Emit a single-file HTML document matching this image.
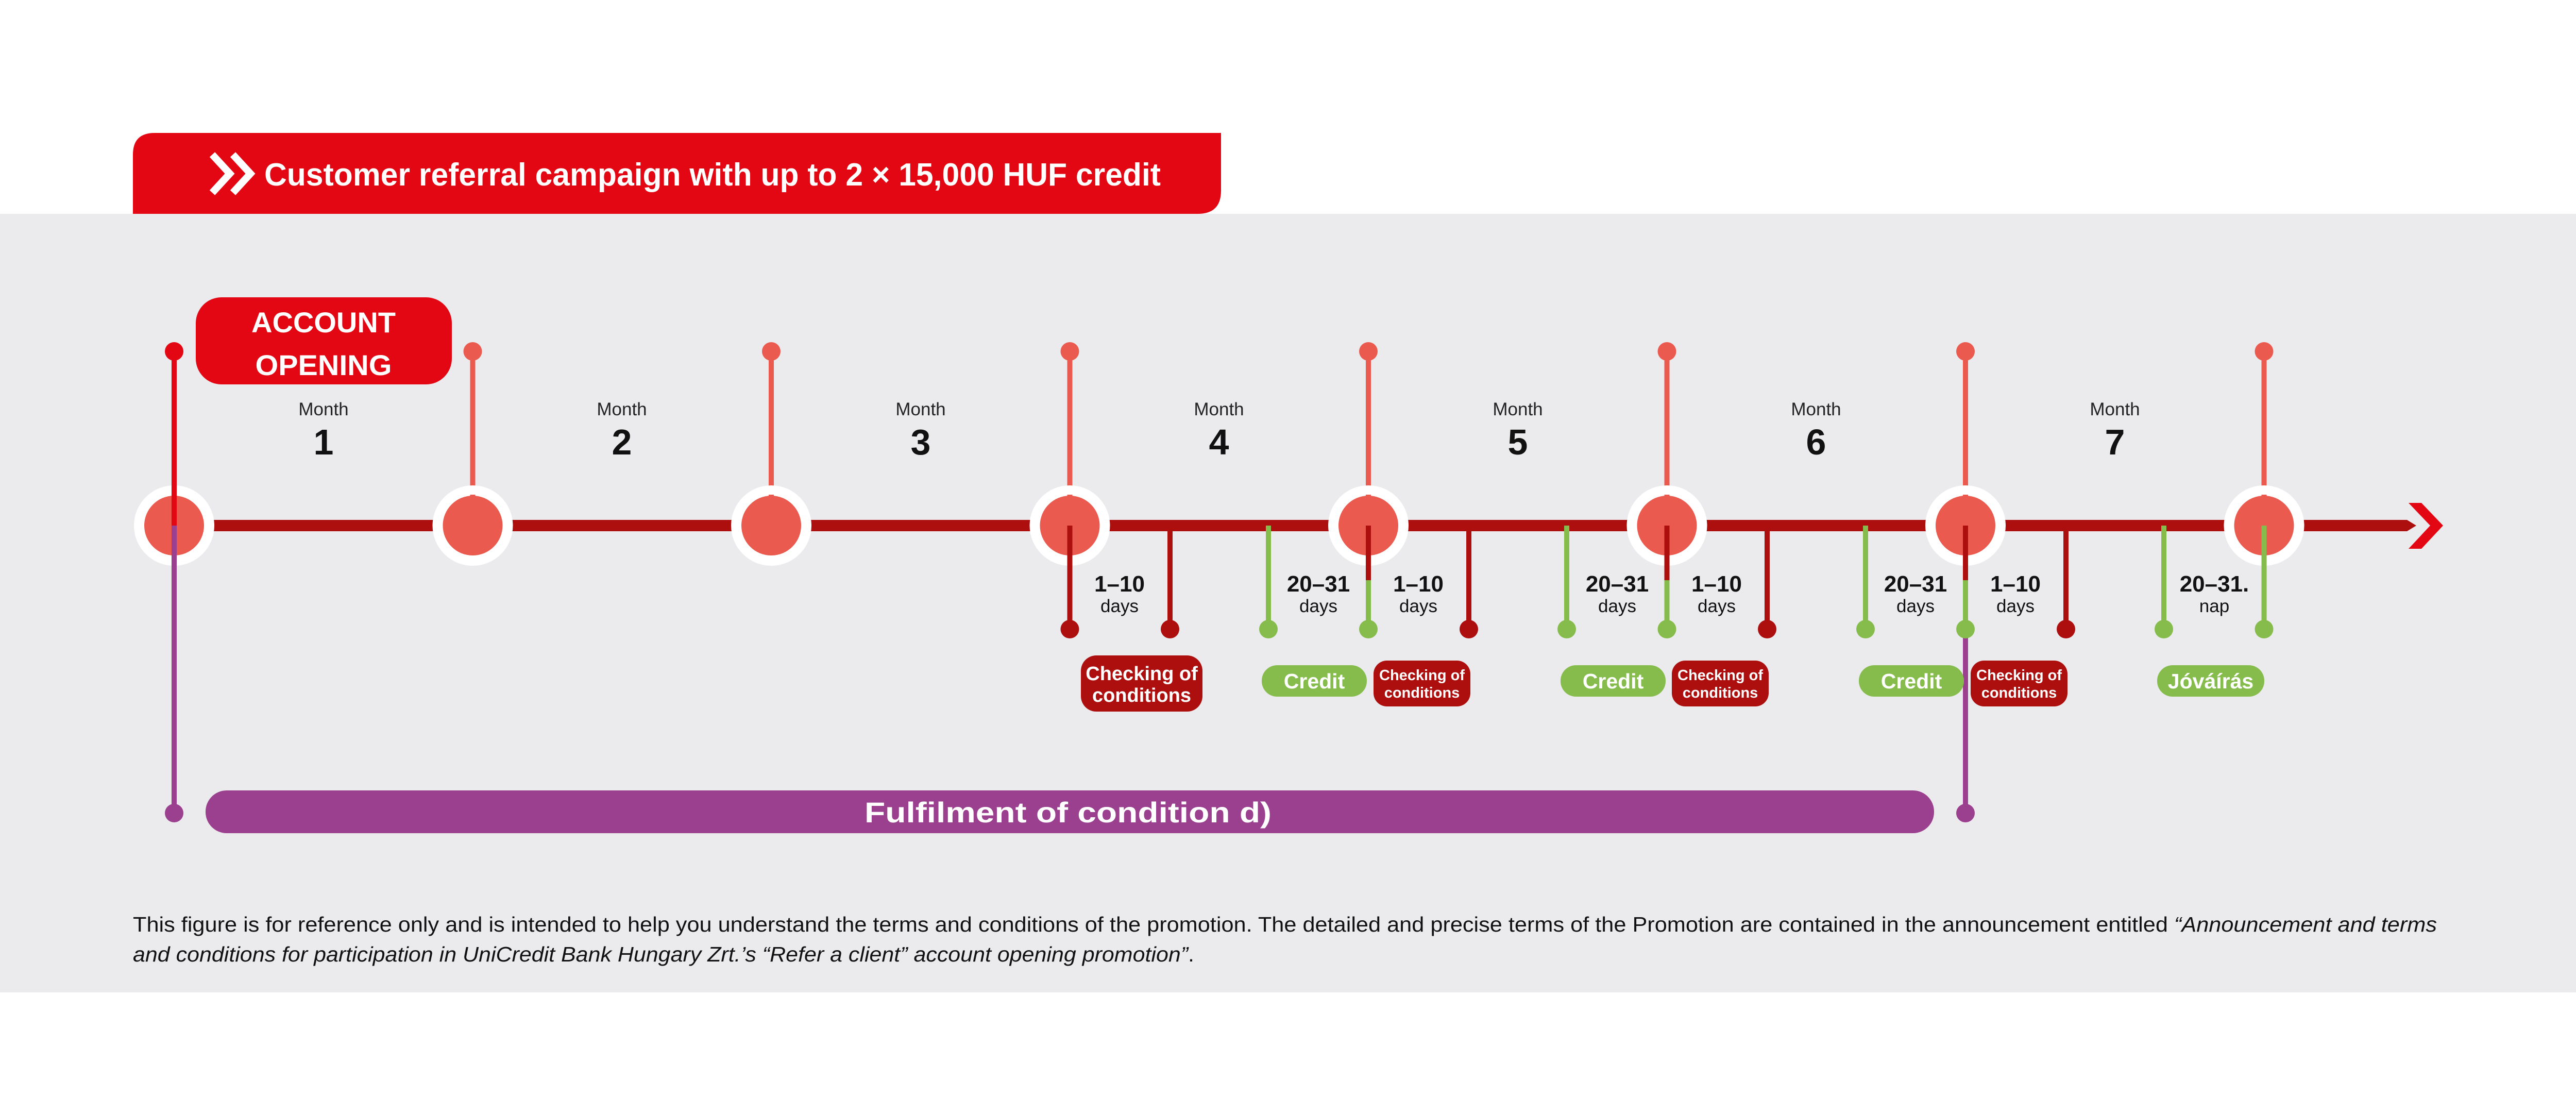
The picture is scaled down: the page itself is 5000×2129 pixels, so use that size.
<!DOCTYPE html>
<html><head><meta charset="utf-8"><style>html,body{margin:0;padding:0;background:#fff}svg{display:block}</style></head><body>
<svg width="5000" height="2129" viewBox="0 0 5000 2129" xmlns="http://www.w3.org/2000/svg" font-family="'Liberation Sans', sans-serif">
<rect x="0" y="0" width="5000" height="2129" fill="#fff"/>
<rect x="0" y="415" width="5000" height="1511" fill="#ebebed"/>
<!-- header tab -->
<path d="M300 258 H2370 V370 Q2370 415 2325 415 H258 V300 Q258 258 300 258 Z" fill="#e30613"/>
<polyline points="412,300 446,337 412,374" fill="none" stroke="#fff" stroke-width="14"/>
<polyline points="452,300 486,337 452,374" fill="none" stroke="#fff" stroke-width="14"/>
<text x="513" y="360" font-size="62" font-weight="bold" fill="#fff" textLength="1740" lengthAdjust="spacingAndGlyphs">Customer referral campaign with up to 2 × 15,000 HUF credit</text>
<!-- account opening -->
<rect x="380" y="577" width="497" height="169" rx="50" fill="#e30613"/>
<text x="628" y="645" font-size="56" font-weight="bold" fill="#fff" text-anchor="middle" textLength="280" lengthAdjust="spacingAndGlyphs">ACCOUNT</text>
<text x="628" y="728" font-size="56" font-weight="bold" fill="#fff" text-anchor="middle" textLength="265" lengthAdjust="spacingAndGlyphs">OPENING</text>
<!-- main line -->
<rect x="338" y="1009" width="4334" height="22" fill="#ad0e0e"/>
<polygon points="4672,1009 4690,1020 4672,1031" fill="#ad0e0e"/>
<polygon points="4675,976 4700,976 4742,1020 4700,1065 4675,1065 4717,1020" fill="#e30613"/>
<!-- purple -->
<line x1="338" y1="1020" x2="338" y2="1578" stroke="#9b3f8f" stroke-width="10"/>
<circle cx="338" cy="1578" r="18" fill="#9b3f8f"/>
<line x1="3815" y1="1180" x2="3815" y2="1578" stroke="#9b3f8f" stroke-width="10"/>
<circle cx="3815" cy="1578" r="18" fill="#9b3f8f"/>
<rect x="399" y="1534" width="3355" height="83" rx="41" fill="#9b3f8f"/>
<text x="2073" y="1596" font-size="56" font-weight="bold" fill="#fff" text-anchor="middle" textLength="790" lengthAdjust="spacingAndGlyphs">Fulfilment of condition d)</text>
<!-- top stems + circles -->
<g>
<line x1="338" y1="682" x2="338" y2="1020" stroke="#e30613" stroke-width="10"/><circle cx="338" cy="682" r="18" fill="#e30613"/>
</g>
<g stroke="#eb5a4e" stroke-width="10">
<line x1="917.5" y1="682" x2="917.5" y2="1020"/><line x1="1497" y1="682" x2="1497" y2="1020"/><line x1="2076.5" y1="682" x2="2076.5" y2="1020"/><line x1="2656" y1="682" x2="2656" y2="1020"/><line x1="3235.5" y1="682" x2="3235.5" y2="1020"/><line x1="3815" y1="682" x2="3815" y2="1020"/><line x1="4394.5" y1="682" x2="4394.5" y2="1020"/>
</g>
<g fill="#eb5a4e">
<circle cx="917.5" cy="682" r="18"/><circle cx="1497" cy="682" r="18"/><circle cx="2076.5" cy="682" r="18"/><circle cx="2656" cy="682" r="18"/><circle cx="3235.5" cy="682" r="18"/><circle cx="3815" cy="682" r="18"/><circle cx="4394.5" cy="682" r="18"/>
</g>
<g>
<circle cx="338" cy="1020" r="78" fill="#fff"/><circle cx="917.5" cy="1020" r="78" fill="#fff"/><circle cx="1497" cy="1020" r="78" fill="#fff"/><circle cx="2076.5" cy="1020" r="78" fill="#fff"/><circle cx="2656" cy="1020" r="78" fill="#fff"/><circle cx="3235.5" cy="1020" r="78" fill="#fff"/><circle cx="3815" cy="1020" r="78" fill="#fff"/><circle cx="4394.5" cy="1020" r="78" fill="#fff"/>
</g>
<g fill="#eb5a4e">
<circle cx="338" cy="1020" r="58"/><circle cx="917.5" cy="1020" r="58"/><circle cx="1497" cy="1020" r="58"/><circle cx="2076.5" cy="1020" r="58"/><circle cx="2656" cy="1020" r="58"/><circle cx="3235.5" cy="1020" r="58"/><circle cx="3815" cy="1020" r="58"/><circle cx="4394.5" cy="1020" r="58"/>
</g>
<line x1="338" y1="682" x2="338" y2="1020" stroke="#e30613" stroke-width="10"/>
<line x1="338" y1="1020" x2="338" y2="1100" stroke="#9b3f8f" stroke-width="10"/>
<g stroke="#eb5a4e" stroke-width="10">
<line x1="917.5" y1="960" x2="917.5" y2="1020"/><line x1="1497" y1="960" x2="1497" y2="1020"/><line x1="2076.5" y1="960" x2="2076.5" y2="1020"/><line x1="2656" y1="960" x2="2656" y2="1020"/><line x1="3235.5" y1="960" x2="3235.5" y2="1020"/><line x1="3815" y1="960" x2="3815" y2="1020"/><line x1="4394.5" y1="960" x2="4394.5" y2="1020"/>
</g>
<!-- month labels -->
<g font-size="35" fill="#222" text-anchor="middle">
<text x="628" y="806">Month</text><text x="1207" y="806">Month</text><text x="1787" y="806">Month</text><text x="2366" y="806">Month</text><text x="2946" y="806">Month</text><text x="3525" y="806">Month</text><text x="4105" y="806">Month</text>
</g>
<g font-size="70" font-weight="bold" fill="#111" text-anchor="middle">
<text x="628" y="882">1</text><text x="1207" y="882">2</text><text x="1787" y="882">3</text><text x="2366" y="882">4</text><text x="2946" y="882">5</text><text x="3525" y="882">6</text><text x="4105" y="882">7</text>
</g>
<!-- lower stems -->
<g stroke-width="10">
<line x1="2076.5" y1="1020" x2="2076.5" y2="1221" stroke="#ad0e0e"/>
<line x1="2271" y1="1020" x2="2271" y2="1221" stroke="#ad0e0e"/>
<line x1="2462" y1="1020" x2="2462" y2="1221" stroke="#86bc4c"/>
<line x1="2656" y1="1126" x2="2656" y2="1221" stroke="#86bc4c"/><line x1="2656" y1="1020" x2="2656" y2="1126" stroke="#ad0e0e"/>
<line x1="2851" y1="1020" x2="2851" y2="1221" stroke="#ad0e0e"/>
<line x1="3041" y1="1020" x2="3041" y2="1221" stroke="#86bc4c"/>
<line x1="3235.5" y1="1126" x2="3235.5" y2="1221" stroke="#86bc4c"/><line x1="3235.5" y1="1020" x2="3235.5" y2="1126" stroke="#ad0e0e"/>
<line x1="3430" y1="1020" x2="3430" y2="1221" stroke="#ad0e0e"/>
<line x1="3621" y1="1020" x2="3621" y2="1221" stroke="#86bc4c"/>
<line x1="3815" y1="1126" x2="3815" y2="1221" stroke="#86bc4c"/><line x1="3815" y1="1020" x2="3815" y2="1126" stroke="#ad0e0e"/>
<line x1="4010" y1="1020" x2="4010" y2="1221" stroke="#ad0e0e"/>
<line x1="4200" y1="1020" x2="4200" y2="1221" stroke="#86bc4c"/>
<line x1="4394.5" y1="1020" x2="4394.5" y2="1221" stroke="#86bc4c"/>
</g>
<g fill="#ad0e0e"><circle cx="2076.5" cy="1221" r="18"/><circle cx="2271" cy="1221" r="18"/><circle cx="2851" cy="1221" r="18"/><circle cx="3430" cy="1221" r="18"/><circle cx="4010" cy="1221" r="18"/></g>
<g fill="#86bc4c"><circle cx="2462" cy="1221" r="18"/><circle cx="2656" cy="1221" r="18"/><circle cx="3041" cy="1221" r="18"/><circle cx="3235.5" cy="1221" r="18"/><circle cx="3621" cy="1221" r="18"/><circle cx="3815" cy="1221" r="18"/><circle cx="4200" cy="1221" r="18"/><circle cx="4394.5" cy="1221" r="18"/></g>
<!-- day labels -->
<g text-anchor="middle" fill="#111">
<g font-size="44" font-weight="bold">
<text x="2173" y="1148">1–10</text><text x="2753" y="1148">1–10</text><text x="3332" y="1148">1–10</text><text x="3912" y="1148">1–10</text>
<text x="2559" y="1148">20–31</text><text x="3139" y="1148">20–31</text><text x="3718" y="1148">20–31</text><text x="4298" y="1148">20–31.</text>
</g>
<g font-size="35">
<text x="2173" y="1188">days</text><text x="2753" y="1188">days</text><text x="3332" y="1188">days</text><text x="3912" y="1188">days</text>
<text x="2559" y="1188">days</text><text x="3139" y="1188">days</text><text x="3718" y="1188">days</text><text x="4298" y="1188">nap</text>
</g>
</g>
<!-- boxes -->
<rect x="2098" y="1272" width="236" height="109" rx="30" fill="#ad0e0e"/>
<text x="2216" y="1320" font-size="38" font-weight="bold" fill="#fff" text-anchor="middle">Checking of</text>
<text x="2216" y="1362" font-size="38" font-weight="bold" fill="#fff" text-anchor="middle">conditions</text>
<g fill="#ad0e0e"><rect x="2666" y="1282" width="188" height="89" rx="26"/><rect x="3245" y="1282" width="188" height="89" rx="26"/><rect x="3825" y="1282" width="188" height="89" rx="26"/></g>
<g font-size="29" font-weight="bold" fill="#fff" text-anchor="middle">
<text x="2760" y="1320">Checking of</text><text x="2760" y="1354">conditions</text>
<text x="3339" y="1320">Checking of</text><text x="3339" y="1354">conditions</text>
<text x="3919" y="1320">Checking of</text><text x="3919" y="1354">conditions</text>
</g>
<g fill="#86bc4c"><rect x="2449" y="1291" width="204" height="61" rx="30"/><rect x="3029" y="1291" width="204" height="61" rx="30"/><rect x="3608" y="1291" width="204" height="61" rx="30"/><rect x="4187" y="1291" width="208" height="61" rx="30"/></g>
<g font-size="41" font-weight="bold" fill="#fff" text-anchor="middle">
<text x="2551" y="1336">Credit</text><text x="3131" y="1336">Credit</text><text x="3710" y="1336">Credit</text><text x="4291" y="1336">Jóváírás</text>
</g>
<!-- footnote -->
<text x="258" y="1808" font-size="41" fill="#111" textLength="4472" lengthAdjust="spacingAndGlyphs">This figure is for reference only and is intended to help you understand the terms and conditions of the promotion. The detailed and precise terms of the Promotion are contained in the announcement entitled <tspan font-style="italic">“Announcement and terms</tspan></text>
<text x="258" y="1866" font-size="41" fill="#111" font-style="italic" textLength="2060" lengthAdjust="spacingAndGlyphs">and conditions for participation in UniCredit Bank Hungary Zrt.’s “Refer a client” account opening promotion”<tspan font-style="normal">.</tspan></text>
</svg>
</body></html>
